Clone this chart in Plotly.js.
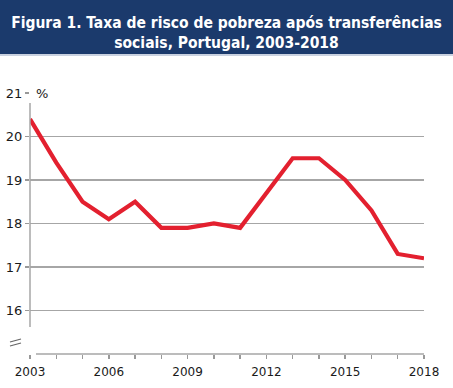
<!DOCTYPE html>
<html><head><meta charset="utf-8">
<script src="https://cdn.plot.ly/plotly-3.0.1.min.js"></script>
<style>html,body{margin:0;padding:0;background:#fff;}#chart{width:453px;height:388px;}</style>
</head><body><div id="chart"></div>
<script>
const years = [2003,2004,2005,2006,2007,2008,2009,2010,2011,2012,2013,2014,2015,2016,2017,2018];
const rates = [20.4,19.4,18.5,18.1,18.5,17.9,17.9,18.0,17.9,18.7,19.5,19.5,19.0,18.3,17.3,17.2];
const xTickVals = years;
const xTickText = years.map(y => ([2003,2006,2009,2012,2015,2018].includes(y) ? String(y) : ''));
const yTickVals = [16,17,18,19,20,21];
const titleText = '<b>Figura 1. Taxa de risco de pobreza após transferências<br>sociais, Portugal, 2003-2018</b>';

const W = 394, H = 261;
const px = v => v / W;   // pixel to paper x
const py = v => v / H;   // pixel to paper y

const trace = {
  x: years, y: rates, type: 'scatter', mode: 'lines',
  line: {color: '#e3202f', width: 4.2}, hoverinfo: 'skip'
};

const layout = {
  width: 453, height: 388,
  margin: {l: 30, r: 29, t: 93, b: 34},
  paper_bgcolor: '#fff', plot_bgcolor: '#fff',
  showlegend: false,
  title: {
    text: titleText, x: 0.5, xref: 'container', y: 1 - 28/388, yref: 'container',
    xanchor: 'center', yanchor: 'middle',
    font: {family: 'DejaVu Sans Condensed', size: 15.5, color: '#ffffff'}
  },
  xaxis: {
    range: [2003, 2018], tickmode: 'array', tickvals: xTickVals, ticktext: xTickText,
    showgrid: false, zeroline: false, showline: false,
    ticks: 'outside', ticklen: 4, tickcolor: '#999', tickwidth: 1.5, ticklabelstandoff: 3,
    tickfont: {family: 'DejaVu Sans', size: 12, color: '#1a1a1a'}, fixedrange: true
  },
  yaxis: {
    range: [15, 21], tickmode: 'array', tickvals: yTickVals,
    showgrid: true, gridcolor: '#a6a6a6', gridwidth: 1.5, zeroline: false, showline: false,
    ticks: 'outside', ticklen: 4, tickcolor: '#999', tickwidth: 1.5,
    tickfont: {family: 'DejaVu Sans', size: 13, color: '#1a1a1a'}, fixedrange: true
  },
  shapes: [
    {type: 'rect', xref: 'paper', yref: 'paper', x0: px(-31), x1: px(W + 30), y0: py(261 - 54 + 93) , y1: py(261 + 93 + 2),
     fillcolor: '#1b3a6c', line: {width: 0}, layer: 'below'},
    {type: 'line', xref: 'paper', yref: 'paper', x0: px(-31), x1: px(W + 30), y0: py(261 + 93 - 55), y1: py(261 + 93 - 55),
     line: {color: '#b7c2d6', width: 1.5}},
    {type: 'line', xref: 'paper', yref: 'paper', x0: 0, x1: 0, y0: py(27), y1: py(251),
     line: {color: '#a6a6a6', width: 1.5}},
    {type: 'line', xref: 'paper', yref: 'paper', x0: px(6), x1: 1, y0: 0, y1: 0,
     line: {color: '#a6a6a6', width: 1.5}},
    {type: 'line', xref: 'paper', yref: 'paper', x0: px(-20), x1: px(-9), y0: py(12), y1: py(15),
     line: {color: '#666', width: 1.2}},
    {type: 'line', xref: 'paper', yref: 'paper', x0: px(-20), x1: px(-9), y0: py(8), y1: py(11),
     line: {color: '#666', width: 1.2}}
  ],
  annotations: [
    {text: '%', xref: 'paper', yref: 'y', x: px(3), y: 21, xanchor: 'left', yanchor: 'middle',
     showarrow: false, bgcolor: '#ffffff', borderpad: 2,
     font: {family: 'DejaVu Sans', size: 13, color: '#1a1a1a'}}
  ]
};

Plotly.newPlot('chart', [trace], layout, {displayModeBar: false, staticPlot: true});
</script></body></html>
